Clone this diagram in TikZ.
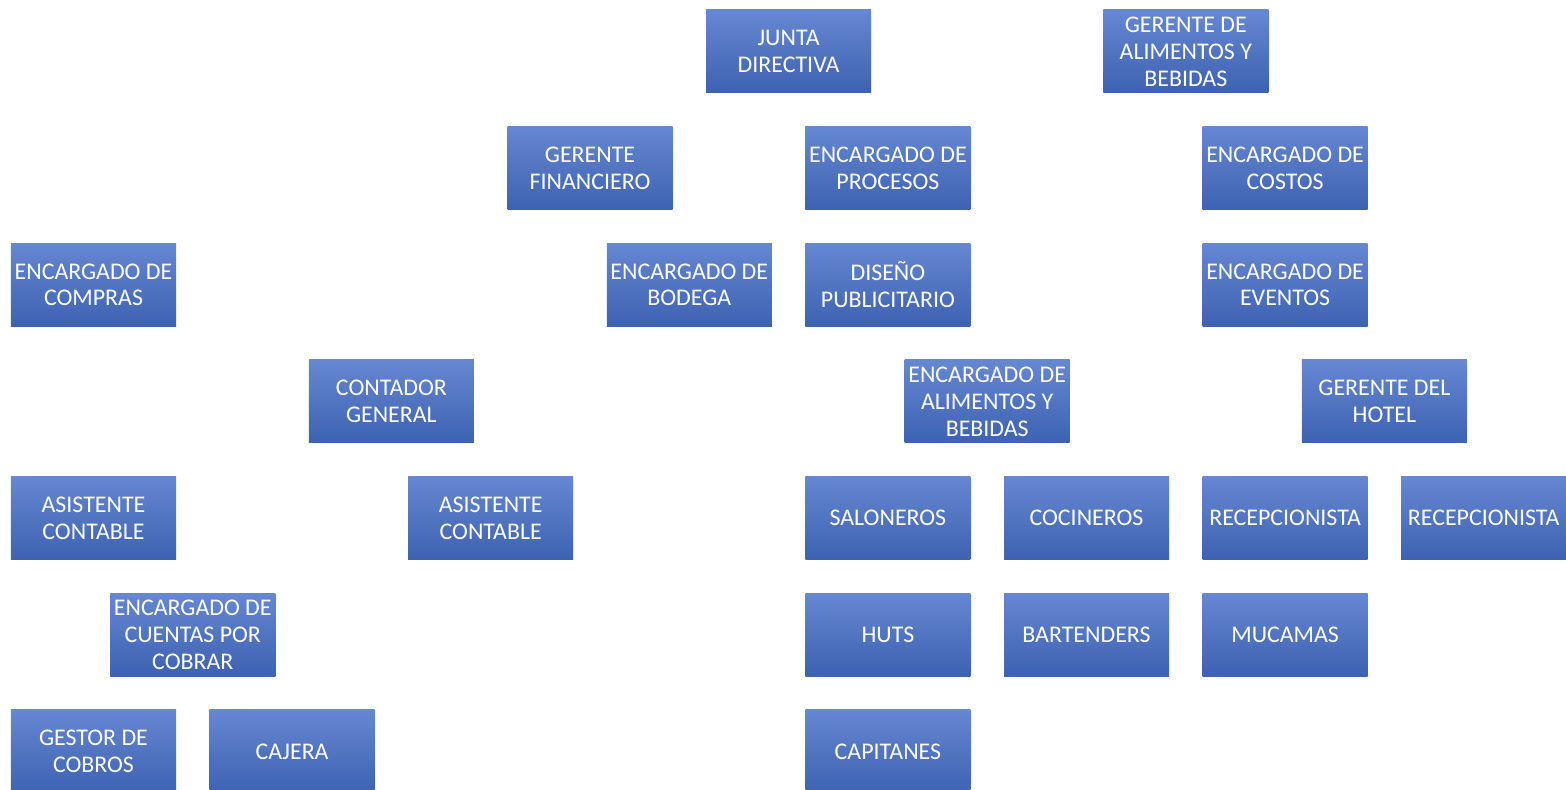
\documentclass[tikz,border=0pt]{standalone}
\usepackage{fontspec}
\setmainfont{Carlito}
\usetikzlibrary{positioning}

\definecolor{cajaarriba}{HTML}{6687D2}
\definecolor{cajamedio}{HTML}{4A72C6}
\definecolor{cajaabajo}{HTML}{3D62B1}

\begin{document}
\begin{tikzpicture}[
    x=1.986cm, y=-2.333cm,
    puesto/.style={rectangle, minimum width=3.3cm, minimum height=1.66cm,
        top color=cajaarriba, middle color=cajamedio, bottom color=cajaabajo,
        text=white, align=center, inner sep=0pt,
        font=\fontsize{13.6}{15.3}\selectfont}
]
\useasboundingbox (-1.87cm,1.03cm) rectangle (29.45cm,-14.77cm);

% Direccion
\node[puesto] (junta) at (7,0) {JUNTA\\DIRECTIVA};
\node[puesto] (gerenteab) at (11,0) {GERENTE DE\\ALIMENTOS Y\\BEBIDAS};

% Segundo nivel
\node[puesto] (financiero) at (5,1) {GERENTE\\FINANCIERO};
\node[puesto] (procesos) at (8,1) {ENCARGADO DE\\PROCESOS};
\node[puesto] (costos) at (12,1) {ENCARGADO DE\\COSTOS};

% Tercer nivel
\node[puesto] (compras) at (0,2) {ENCARGADO DE\\COMPRAS};
\node[puesto] (bodega) at (6,2) {ENCARGADO DE\\BODEGA};
\node[puesto] (diseno) at (8,2) {DISEÑO\\PUBLICITARIO};
\node[puesto] (eventos) at (12,2) {ENCARGADO DE\\EVENTOS};

% Cuarto nivel
\node[puesto] (contador) at (3,3) {CONTADOR\\GENERAL};
\node[puesto] (encab) at (9,3) {ENCARGADO DE\\ALIMENTOS Y\\BEBIDAS};
\node[puesto] (hotel) at (13,3) {GERENTE DEL\\HOTEL};

% Quinto nivel
\node[puesto] (asistente1) at (0,4) {ASISTENTE\\CONTABLE};
\node[puesto] (asistente2) at (4,4) {ASISTENTE\\CONTABLE};
\node[puesto] (saloneros) at (8,4) {SALONEROS};
\node[puesto] (cocineros) at (10,4) {COCINEROS};
\node[puesto] (recep1) at (12,4) {RECEPCIONISTA};
\node[puesto] (recep2) at (14,4) {RECEPCIONISTA};

% Sexto nivel
\node[puesto] (cuentas) at (1,5) {ENCARGADO DE\\CUENTAS POR\\COBRAR};
\node[puesto] (huts) at (8,5) {HUTS};
\node[puesto] (bartenders) at (10,5) {BARTENDERS};
\node[puesto] (mucamas) at (12,5) {MUCAMAS};

% Septimo nivel
\node[puesto] (gestor) at (0,6) {GESTOR DE\\COBROS};
\node[puesto] (cajera) at (2,6) {CAJERA};
\node[puesto] (capitanes) at (8,6) {CAPITANES};

\end{tikzpicture}
\end{document}
